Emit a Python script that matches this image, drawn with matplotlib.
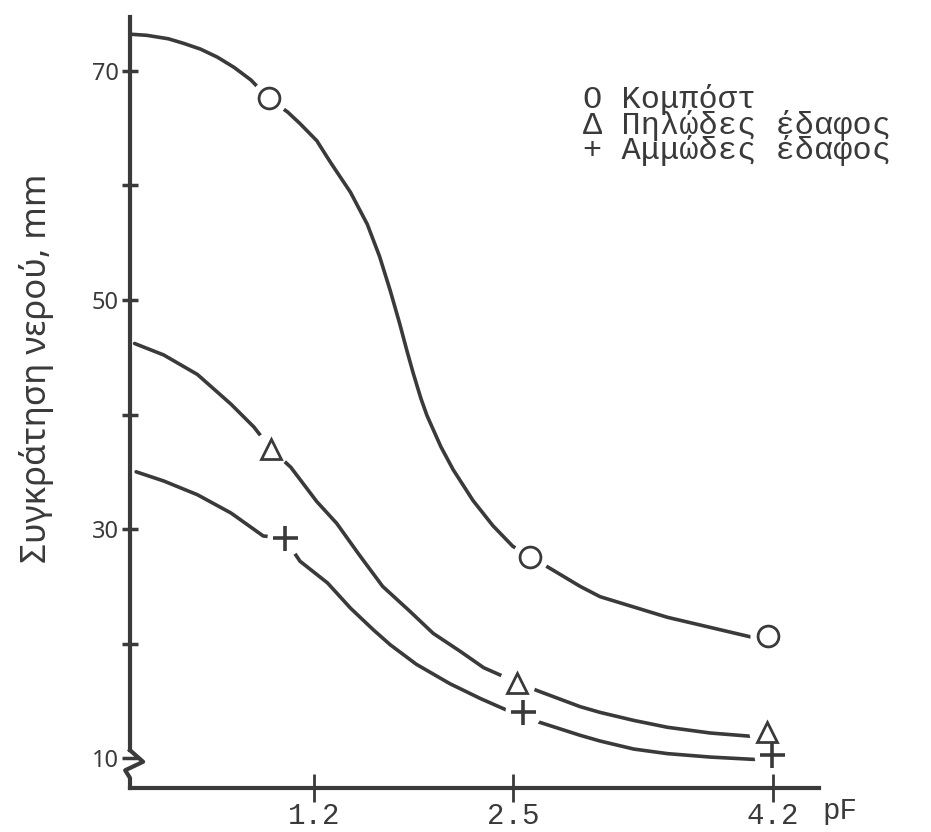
import matplotlib.pyplot as plt

# values (pF vs water retention, mm)
kompost_x = [0.0, 0.11, 0.25, 0.35, 0.46, 0.57, 0.68, 0.79, 0.905, 1.03, 1.11,
             1.22, 1.31, 1.44, 1.55, 1.63, 1.70, 1.76, 1.81, 1.85, 1.90, 1.94,
             2.03, 2.11, 2.24, 2.37, 2.50, 2.61, 2.74, 2.94, 3.07, 3.51, 4.05, 4.17]
kompost_y = [73.2, 73.1, 72.8, 72.4, 71.9, 71.2, 70.3, 69.2, 67.6, 66.4, 65.4,
             63.9, 62.0, 59.4, 56.6, 53.8, 50.8, 48.0, 45.5, 43.6, 41.4, 39.9,
             37.2, 35.2, 32.5, 30.3, 28.5, 27.6, 26.6, 25.0, 24.1, 22.3, 20.6, 20.7]
kompost_mx = [0.905, 2.61, 4.17]
kompost_my = [67.6, 27.6, 20.7]

pilodes_x = [0.03, 0.22, 0.44, 0.66, 0.81, 0.92, 1.05, 1.22, 1.35, 1.50, 1.65,
             1.83, 1.98, 2.16, 2.31, 2.53, 2.66, 2.94, 3.07, 3.29, 3.51, 3.79,
             4.07, 4.16]
pilodes_y = [46.2, 45.2, 43.5, 40.9, 38.9, 37.0, 35.4, 32.4, 30.5, 27.7, 25.0,
             22.8, 20.9, 19.3, 17.9, 16.6, 15.9, 14.5, 14.0, 13.3, 12.7, 12.2,
             11.9, 11.9]
pilodes_mx = [0.92, 2.53, 4.16]
pilodes_my = [37.0, 16.6, 12.3]

ammodes_x = [0.04, 0.22, 0.44, 0.66, 0.87, 1.01, 1.11, 1.29, 1.44, 1.59, 1.70,
             1.87, 2.09, 2.29, 2.46, 2.57, 2.66, 2.94, 3.07, 3.29, 3.51, 3.79,
             4.07, 4.19]
ammodes_y = [35.0, 34.2, 33.0, 31.4, 29.4, 29.2, 27.2, 25.3, 23.1, 21.2, 19.9,
             18.2, 16.5, 15.2, 14.2, 14.0, 13.2, 12.0, 11.5, 10.8, 10.4, 10.1,
             9.9, 10.0]
ammodes_mx = [1.01, 2.57, 4.19]
ammodes_my = [29.2, 14.0, 10.3]

yticks = [10, 20, 30, 40, 50, 60, 70]
ytick_labels = ['10', '', '30', '', '50', '', '70']
xticks = [1.2, 2.5, 4.2]
xtick_labels = ['1.2', '2.5', '4.2']
legend_lines = ['O Κομπόστ', 'Δ Πηλώδες έδαφος', '+ Αμμώδες έδαφος']

ink = '#3a3a3a'
mono = ['Liberation Mono', 'DejaVu Sans Mono']
sans = ['Noto Sans', 'DejaVu Sans']

fig = plt.figure(figsize=(9.31, 8.32), dpi=100)
ax = fig.add_axes([130 / 931, 44 / 832, 689 / 931, 771 / 832])

series = [
    (kompost_x, kompost_y, kompost_mx, kompost_my, 'o', 15, 2.0),
    (pilodes_x, pilodes_y, pilodes_mx, pilodes_my, '^', 15, 2.0),
    (ammodes_x, ammodes_y, ammodes_mx, ammodes_my, '+', 18, 2.6),
]
for cx, cy, mx, my, m, ms, mew in series:
    ax.plot(cx, cy, color=ink, lw=2.6, solid_capstyle='round',
            solid_joinstyle='round', zorder=2)
    # white halo -> gap in the line around each marker
    ax.plot(mx, my, 'o', color='white', ms=26, mew=0, zorder=3)
    ax.plot(mx, my, m, color=ink, mfc='white', ms=ms, mew=mew, zorder=4)

ax.set_xlim(0, 4.5)
ax.set_ylim(7.4, 74.7)

for s in ['top', 'right']:
    ax.spines[s].set_visible(False)
for s in ['left', 'bottom']:
    ax.spines[s].set_linewidth(3)
    ax.spines[s].set_color(ink)
ax.spines['left'].set_bounds(10.7, 74.7)

# axis break squiggle at the bottom of the y axis
ax.plot([0, 0.019, -0.007, 0, 0], [0.049, 0.034, 0.023, 0.013, 0.0],
        transform=ax.transAxes, color=ink, lw=3, clip_on=False, zorder=5)

ax.set_yticks(yticks)
ax.set_yticklabels(ytick_labels)
ax.set_xticks(xticks)
ax.set_xticklabels(xtick_labels, family=mono)
ax.tick_params(axis='y', direction='inout', length=11, width=2.5, color=ink,
               labelsize=17, labelcolor=ink, pad=2.5)
ax.tick_params(axis='x', direction='inout', length=20, width=2, color=ink,
               labelsize=21, labelcolor=ink, pad=0)
for lab in ax.get_yticklabels():
    lab.set_family(sans)

ax.set_xlabel('pF', family=mono, fontsize=21, color=ink, ha='center', va='center')
ax.xaxis.set_label_coords(1.03, -0.03)
ax.set_ylabel('Συγκράτηση νερού, mm', family=sans, fontsize=25, color=ink)
ax.yaxis.set_label_coords(-0.11, 0.545)

# legend typed as one block of text, tight line pitch like the typewriter original
fig.text(583 / 931, 1 - 84 / 832, '\n'.join(legend_lines), family=mono,
         fontsize=23, color=ink, ha='left', va='top', linespacing=0.78)

fig.savefig('out.png', dpi=100, facecolor='white')
